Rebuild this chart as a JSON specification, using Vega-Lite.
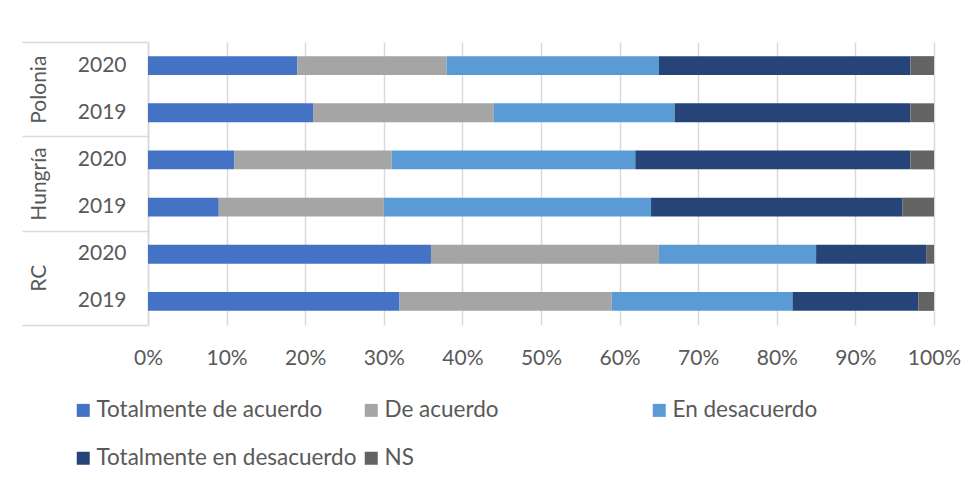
{
  "$schema": "https://vega.github.io/schema/vega-lite/v6.json",
  "autosize": {"type": "none"},
  "width": 786,
  "height": 283,
  "padding": {"left": 148, "top": 42, "right": 43, "bottom": 156},
  "background": "white",
  "config": {
    "font": "Lato",
    "view": {"stroke": null},
    "axis": {"labelFont": "Lato", "labelColor": "#595959", "labelFontSize": 21}
  },
  "data": {
    "values": [
      {"pais": "Polonia", "key": "Polonia-2020", "respuesta": "Totalmente de acuerdo", "orden": 1, "valor": 19},
      {"pais": "Polonia", "key": "Polonia-2020", "respuesta": "De acuerdo", "orden": 2, "valor": 19},
      {"pais": "Polonia", "key": "Polonia-2020", "respuesta": "En desacuerdo", "orden": 3, "valor": 27},
      {"pais": "Polonia", "key": "Polonia-2020", "respuesta": "Totalmente en desacuerdo", "orden": 4, "valor": 32},
      {"pais": "Polonia", "key": "Polonia-2020", "respuesta": "NS", "orden": 5, "valor": 3},
      {"pais": "Polonia", "key": "Polonia-2019", "respuesta": "Totalmente de acuerdo", "orden": 1, "valor": 21},
      {"pais": "Polonia", "key": "Polonia-2019", "respuesta": "De acuerdo", "orden": 2, "valor": 23},
      {"pais": "Polonia", "key": "Polonia-2019", "respuesta": "En desacuerdo", "orden": 3, "valor": 23},
      {"pais": "Polonia", "key": "Polonia-2019", "respuesta": "Totalmente en desacuerdo", "orden": 4, "valor": 30},
      {"pais": "Polonia", "key": "Polonia-2019", "respuesta": "NS", "orden": 5, "valor": 3},
      {"pais": "Hungría", "key": "Hungría-2020", "respuesta": "Totalmente de acuerdo", "orden": 1, "valor": 11},
      {"pais": "Hungría", "key": "Hungría-2020", "respuesta": "De acuerdo", "orden": 2, "valor": 20},
      {"pais": "Hungría", "key": "Hungría-2020", "respuesta": "En desacuerdo", "orden": 3, "valor": 31},
      {"pais": "Hungría", "key": "Hungría-2020", "respuesta": "Totalmente en desacuerdo", "orden": 4, "valor": 35},
      {"pais": "Hungría", "key": "Hungría-2020", "respuesta": "NS", "orden": 5, "valor": 3},
      {"pais": "Hungría", "key": "Hungría-2019", "respuesta": "Totalmente de acuerdo", "orden": 1, "valor": 9},
      {"pais": "Hungría", "key": "Hungría-2019", "respuesta": "De acuerdo", "orden": 2, "valor": 21},
      {"pais": "Hungría", "key": "Hungría-2019", "respuesta": "En desacuerdo", "orden": 3, "valor": 34},
      {"pais": "Hungría", "key": "Hungría-2019", "respuesta": "Totalmente en desacuerdo", "orden": 4, "valor": 32},
      {"pais": "Hungría", "key": "Hungría-2019", "respuesta": "NS", "orden": 5, "valor": 4},
      {"pais": "RC", "key": "RC-2020", "respuesta": "Totalmente de acuerdo", "orden": 1, "valor": 36},
      {"pais": "RC", "key": "RC-2020", "respuesta": "De acuerdo", "orden": 2, "valor": 29},
      {"pais": "RC", "key": "RC-2020", "respuesta": "En desacuerdo", "orden": 3, "valor": 20},
      {"pais": "RC", "key": "RC-2020", "respuesta": "Totalmente en desacuerdo", "orden": 4, "valor": 14},
      {"pais": "RC", "key": "RC-2020", "respuesta": "NS", "orden": 5, "valor": 1},
      {"pais": "RC", "key": "RC-2019", "respuesta": "Totalmente de acuerdo", "orden": 1, "valor": 32},
      {"pais": "RC", "key": "RC-2019", "respuesta": "De acuerdo", "orden": 2, "valor": 27},
      {"pais": "RC", "key": "RC-2019", "respuesta": "En desacuerdo", "orden": 3, "valor": 23},
      {"pais": "RC", "key": "RC-2019", "respuesta": "Totalmente en desacuerdo", "orden": 4, "valor": 16},
      {"pais": "RC", "key": "RC-2019", "respuesta": "NS", "orden": 5, "valor": 2}
    ]
  },
  "layer": [
    {
      "mark": {"type": "bar", "opacity": 0},
      "encoding": {
        "y": {
          "field": "pais", "type": "nominal",
          "sort": ["Polonia", "Hungría", "RC"],
          "scale": {"paddingInner": 0, "paddingOuter": 0},
          "axis": {
            "orient": "left", "title": null, "grid": false,
            "domain": true, "domainColor": "#d9d9d9", "domainWidth": 1.5,
            "ticks": true, "tickBand": "extent", "tickSize": 126, "tickColor": "#d9d9d9", "tickWidth": 1.5,
            "labelAngle": -90, "labelAlign": "center", "labelBaseline": "middle", "labelPadding": -17
          }
        }
      }
    },
    {
      "mark": {"type": "bar"},
      "encoding": {
        "y": {
          "field": "key", "type": "nominal",
          "sort": ["Polonia-2020", "Polonia-2019", "Hungría-2020", "Hungría-2019", "RC-2020", "RC-2019"],
          "scale": {"paddingInner": 0.6, "paddingOuter": 0.3},
          "axis": {
            "orient": "left", "title": null, "grid": false, "domain": false, "ticks": false,
            "labelExpr": "split(datum.label, '-')[1]", "labelPadding": 22, "labelAlign": "right"
          }
        },
        "x": {
          "field": "valor", "type": "quantitative", "stack": "normalize",
          "scale": {"domain": [0, 1]},
          "axis": {
            "title": null, "format": ".0%", "values": [0, 0.1, 0.2, 0.3, 0.4, 0.5, 0.6, 0.7, 0.8, 0.9, 1],
            "labelFlush": false, "labelOverlap": false,
            "grid": true, "gridColor": "#d9d9d9", "gridWidth": 1.5, "domain": false, "ticks": false, "labelPadding": 22
          }
        },
        "color": {
          "field": "respuesta", "type": "nominal",
          "scale": {
            "domain": ["Totalmente de acuerdo", "De acuerdo", "En desacuerdo", "Totalmente en desacuerdo", "NS"],
            "range": ["#4472C4", "#A5A5A5", "#5B9BD5", "#264478", "#636363"]
          },
          "legend": {
            "title": null, "orient": "none", "legendX": -76, "legendY": 357,
            "direction": "horizontal", "columns": 3, "gridAlign": "all",
            "columnPadding": 3, "rowPadding": 25,
            "symbolType": "square", "symbolSize": 169, "symbolStrokeWidth": 0,
            "labelFont": "Lato", "labelFontSize": 22.5, "labelColor": "#595959", "labelOffset": 2, "labelLimit": 400
          }
        },
        "order": {"field": "orden", "type": "quantitative"}
      }
    }
  ],
  "resolve": {"scale": {"y": "independent"}, "axis": {"y": "independent"}}
}
